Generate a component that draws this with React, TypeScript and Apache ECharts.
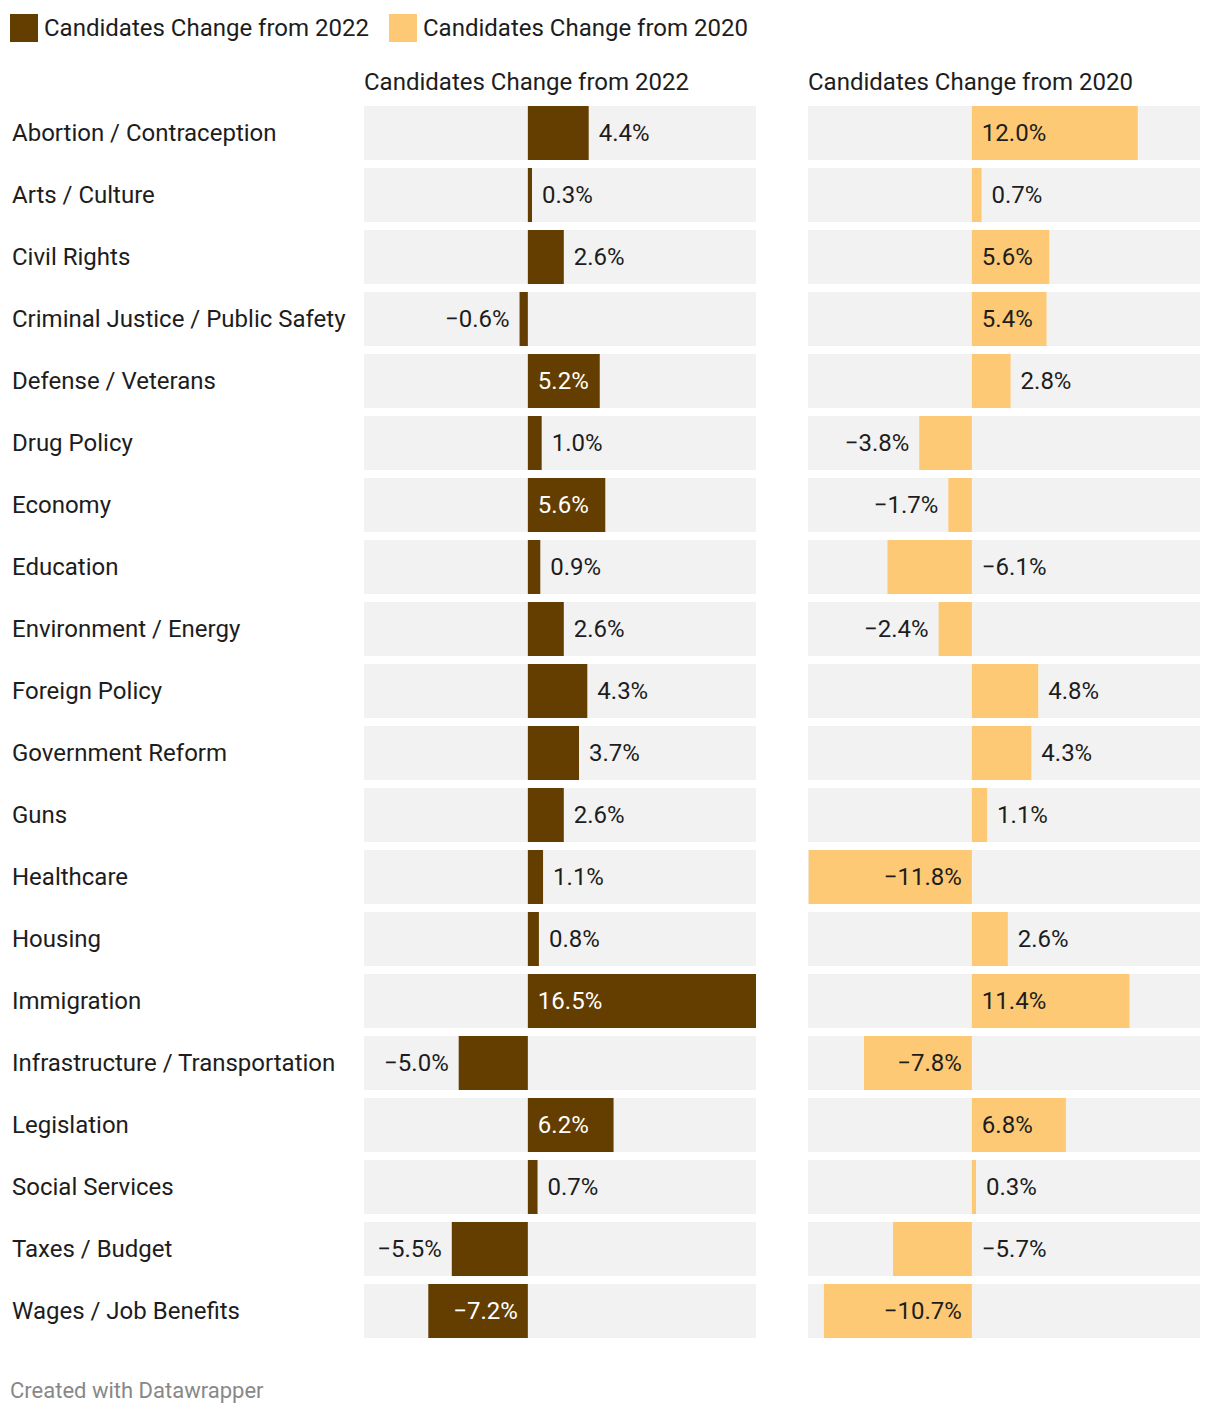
import React, { useEffect, useRef } from "react";
import * as echarts from "echarts";

const categories = [
  "Abortion / Contraception",
  "Arts / Culture",
  "Civil Rights",
  "Criminal Justice / Public Safety",
  "Defense / Veterans",
  "Drug Policy",
  "Economy",
  "Education",
  "Environment / Energy",
  "Foreign Policy",
  "Government Reform",
  "Guns",
  "Healthcare",
  "Housing",
  "Immigration",
  "Infrastructure / Transportation",
  "Legislation",
  "Social Services",
  "Taxes / Budget",
  "Wages / Job Benefits",
];

const change2022 = [4.4, 0.3, 2.6, -0.6, 5.2, 1.0, 5.6, 0.9, 2.6, 4.3, 3.7, 2.6, 1.1, 0.8, 16.5, -5.0, 6.2, 0.7, -5.5, -7.2];
const change2020 = [12.0, 0.7, 5.6, 5.4, 2.8, -3.8, -1.7, -6.1, -2.4, 4.8, 4.3, 1.1, -11.8, 2.6, 11.4, -7.8, 6.8, 0.3, -5.7, -10.7];

const seriesNames = ["Candidates Change from 2022", "Candidates Change from 2020"];

const AXIS_MIN = -11.85;
const AXIS_MAX = 16.5;
const FONT = "Roboto, 'Noto Sans', sans-serif";
const DARK = "#633e00";
const LIGHT = "#fdc975";
const TEXT = "#1d1d1d";

const PLOT_W = 392;
const SCALE = PLOT_W / (AXIS_MAX - AXIS_MIN);

function fmt(v: number) {
  const s = Math.abs(v).toFixed(1) + "%";
  return v < 0 ? "\u2212" + s : s;
}

function buildData(values: number[], insideColor: string) {
  return values.map((v) => {
    let position: string;
    let color = TEXT;
    if (v >= 5.0) {
      position = "insideLeft";
      color = insideColor;
    } else if (v <= -7.0) {
      position = "insideRight";
      color = insideColor;
    } else if (v >= 0) {
      position = "right";
    } else {
      const spaceLeft = (v - AXIS_MIN) * SCALE;
      position = spaceLeft >= 86 ? "left" : "right";
    }
    return {
      value: v,
      label: { position, color, distance: 10 },
    };
  });
}

export default function App() {
  const ref = useRef<HTMLDivElement>(null);
  useEffect(() => {
    document.body.style.margin = "0";
    if (!ref.current) return;
    const chart = echarts.init(ref.current, undefined, { renderer: "svg" });
    const gridTop = 102;
    const gridH = categories.length * 62;
    const grids = [
      { left: 364, top: gridTop, width: PLOT_W, height: gridH },
      { left: 808, top: gridTop, width: PLOT_W, height: gridH },
    ];
    const mkSeries = (idx: number, vals: number[], color: string, insideColor: string) => ({
      name: seriesNames[idx],
      type: "bar",
      xAxisIndex: idx,
      yAxisIndex: idx,
      barWidth: 54,
      showBackground: true,
      backgroundStyle: { color: "#f2f2f2" },
      itemStyle: { color },
      label: {
        show: true,
        fontFamily: FONT,
        fontSize: 24,
        formatter: (p: any) => fmt(p.value),
      },
      data: buildData(vals, insideColor),
    });
    chart.setOption({
      animation: false,
      textStyle: { fontFamily: FONT },
      legend: {
        left: 10,
        top: 14,
        padding: 0,
        itemWidth: 28,
        itemHeight: 28,
        itemGap: 20,
        icon: "rect",
        textStyle: { fontFamily: FONT, fontSize: 24, color: TEXT, padding: [0, 0, 0, 1] },
        data: seriesNames,
      },
      grid: grids,
      xAxis: grids.map((_, i) => ({
        type: "value",
        gridIndex: i,
        min: AXIS_MIN,
        max: AXIS_MAX,
        show: false,
        splitLine: { show: false },
      })),
      yAxis: grids.map((_, i) => ({
        type: "category",
        gridIndex: i,
        inverse: true,
        data: categories,
        axisLine: { show: false },
        axisTick: { show: false },
        axisLabel:
          i === 0
            ? { show: true, align: "left", margin: 352, fontFamily: FONT, fontSize: 24, color: TEXT }
            : { show: false },
      })),
      series: [
        mkSeries(0, change2022, DARK, "#ffffff"),
        mkSeries(1, change2020, LIGHT, TEXT),
      ],
      graphic: [
        {
          type: "text",
          left: 364,
          top: 70,
          style: { text: seriesNames[0], font: `24px ${FONT}`, fill: TEXT },
        },
        {
          type: "text",
          left: 808,
          top: 70,
          style: { text: seriesNames[1], font: `24px ${FONT}`, fill: TEXT },
        },
        {
          type: "text",
          left: 10,
          top: 1379,
          style: { text: "Created with Datawrapper", font: `22px ${FONT}`, fill: "#888888" },
        },
      ],
    });
    return () => chart.dispose();
  }, []);
  return <div ref={ref} style={{ width: 1220, height: 1416 }} />;
}
